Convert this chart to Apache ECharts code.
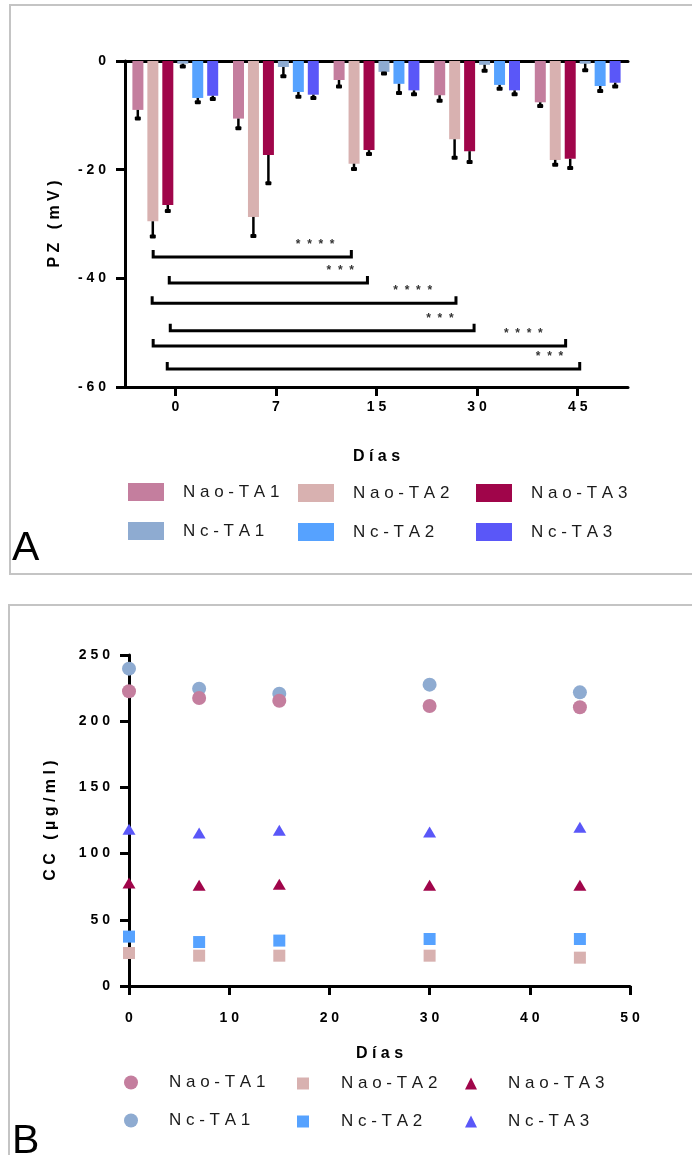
<!DOCTYPE html>
<html>
<head>
<meta charset="utf-8">
<script src="https://cdn.jsdelivr.net/npm/echarts@6/dist/echarts.min.js"></script>
<style>
html, body { margin: 0; padding: 0; background: #fff; }
#main { width: 692px; height: 1155px; }
</style>
</head>
<body>
<div id="main"></div>
<script>
// ---- panel A: PZ (mV) por día ----
var dias = ['0', '7', '15', '30', '45'];
var nombres = ['Nao-TA1', 'Nao-TA2', 'Nao-TA3', 'Nc-TA1', 'Nc-TA2', 'Nc-TA3'];
var colores = ['#c47e9e', '#d8b1b0', '#a0054a', '#8eabd1', '#56a2ff', '#5a57f8'];

var naoTA1_pz = [-9.0, -10.6, -3.5, -6.3, -7.6];
var naoTA2_pz = [-29.5, -28.7, -18.9, -14.4, -18.2];
var naoTA3_pz = [-26.5, -17.3, -16.4, -16.6, -18.0];
var ncTA1_pz = [-0.5, -1.1, -2.0, -0.7, -0.5];
var ncTA2_pz = [-6.8, -5.7, -4.2, -4.4, -4.6];
var ncTA3_pz = [-6.4, -6.2, -5.4, -5.4, -4.0];

var naoTA1_sd = [1.6, 1.8, 1.2, 1.0, 0.7];
var naoTA2_sd = [2.8, 3.5, 1.0, 3.4, 0.9];
var naoTA3_sd = [1.1, 5.2, 0.7, 2.0, 1.7];
var ncTA1_sd = [0.5, 1.7, 0.3, 1.1, 1.2];
var ncTA2_sd = [0.8, 0.9, 1.7, 0.7, 0.9];
var ncTA3_sd = [0.6, 0.6, 0.7, 0.7, 0.7];

// llaves de significancia (x en unidades de categoría)
var sigInicio = [-0.22, -0.06, -0.23, -0.05, -0.22, -0.08];
var sigFin = [1.75, 1.91, 2.79, 2.97, 3.88, 4.02];
var sigNivel = [-35.7, -40.5, -44.2, -49.3, -52.1, -56.3];
var sigEstrellaX = [1.39, 1.64, 2.36, 2.63, 3.46, 3.72];
var sigTexto = ['****', '***', '****', '***', '****', '***'];

// ---- panel B: CC (µg/ml) por día ----
var diasB = [0, 7, 15, 30, 45];
var naoTA1_cc = [222.6, 217.5, 215.5, 211.5, 210.5];
var naoTA2_cc = [24.9, 22.9, 22.9, 22.9, 21.4];
var naoTA3_cc = [77.8, 76.1, 76.8, 76.1, 76.1];
var ncTA1_cc = [239.7, 224.6, 220.8, 227.6, 221.8];
var ncTA2_cc = [37.3, 33.2, 34.3, 35.5, 35.5];
var ncTA3_cc = [118.3, 115.6, 117.6, 116.3, 119.9];

function esp(t) { return String(t).split('').join(' '); }

var fuente = '"Liberation Sans", Arial, sans-serif';
var pzSeries = [naoTA1_pz, naoTA2_pz, naoTA3_pz, ncTA1_pz, ncTA2_pz, ncTA3_pz];
var sdSeries = [naoTA1_sd, naoTA2_sd, naoTA3_sd, ncTA1_sd, ncTA2_sd, ncTA3_sd];
var ccSeries = [naoTA1_cc, naoTA2_cc, naoTA3_cc, ncTA1_cc, ncTA2_cc, ncTA3_cc];
var simbolos = ['circle', 'rect', 'triangle', 'circle', 'rect', 'triangle'];
var tamanos = [14, 12, [13, 11], 14, 12, [13, 11]];

function dibujaError(params, api) {
  var c = api.value(0), v = api.value(1), e = api.value(2), s = api.value(3);
  var p0 = api.coord([c, v]);
  var p1 = api.coord([c, v - e]);
  var x = p0[0] + (s - 2.5) * 15;
  return {
    type: 'group',
    children: [
      { type: 'line', shape: { x1: x, y1: p0[1], x2: x, y2: p1[1] }, style: { stroke: '#000', lineWidth: 2.5 } },
      { type: 'rect', shape: { x: x - 3, y: p1[1] - 2, width: 6, height: 4, r: 1 }, style: { fill: '#000' } }
    ]
  };
}

function dibujaLlave(params, api) {
  var a = api.coord([api.value(0), api.value(2)]);
  var b = api.coord([api.value(1), api.value(2)]);
  var t = api.coord([api.value(3), api.value(2)]);
  return {
    type: 'group',
    children: [
      { type: 'polyline', shape: { points: [[a[0], a[1] - 5], [a[0], a[1] + 2], [b[0], b[1] + 2], [b[0], b[1] - 5]] },
        style: { stroke: '#000', lineWidth: 3, fill: null } },
      { type: 'text', style: { text: sigTexto[params.dataIndex].split('').join('  '), x: t[0], y: t[1] - 4,
        align: 'center', verticalAlign: 'bottom', font: 'bold 12px ' + fuente, fill: '#333' } }
    ]
  };
}

var series = [];
for (var s = 0; s < nombres.length; s++) {
  series.push({
    name: nombres[s], type: 'bar', xAxisIndex: 0, yAxisIndex: 0,
    data: pzSeries[s], barWidth: 11, barGap: '36%',
    itemStyle: { color: colores[s] }
  });
}
var errData = [];
for (var s = 0; s < nombres.length; s++) {
  for (var c = 0; c < dias.length; c++) {
    errData.push([c, pzSeries[s][c], sdSeries[s][c], s]);
  }
}
series.push({ type: 'custom', xAxisIndex: 1, yAxisIndex: 0, data: errData, renderItem: dibujaError, z: 3 });
var llaves = [];
for (var i = 0; i < sigInicio.length; i++) {
  llaves.push([sigInicio[i], sigFin[i], sigNivel[i], sigEstrellaX[i]]);
}
series.push({ type: 'custom', xAxisIndex: 1, yAxisIndex: 0, data: llaves, renderItem: dibujaLlave, z: 3 });

// Nc primero para que Nao quede encima
var ordenB = [3, 4, 5, 0, 1, 2];
for (var k = 0; k < ordenB.length; k++) {
  var s = ordenB[k];
  var pts = [];
  for (var i = 0; i < diasB.length; i++) pts.push([diasB[i], ccSeries[s][i]]);
  series.push({
    name: nombres[s], type: 'scatter', xAxisIndex: 2, yAxisIndex: 1,
    symbol: simbolos[s], symbolSize: tamanos[s],
    itemStyle: { color: colores[s], opacity: 1 }, data: pts
  });
}

var ejeLinea = { show: true, onZero: false, lineStyle: { color: '#000', width: 3 } };
var ejeTick = { show: true, length: 9, lineStyle: { color: '#000', width: 3 } };
var ejeLabel = { formatter: esp, fontWeight: 'bold', fontSize: 14, color: '#000', fontFamily: fuente };
var ejeNombre = { fontWeight: 'bold', fontSize: 16, color: '#000', fontFamily: fuente };

function leyenda(items, left, top, w, h, gap, pad) {
  return {
    orient: 'vertical', left: left, top: top, padding: 0, itemWidth: w, itemHeight: h, itemGap: gap,
    selectedMode: false, data: items, formatter: esp,
    textStyle: { fontSize: 17, color: '#1a1a1a', fontFamily: fuente, padding: [0, 0, 0, pad] }
  };
}

var option = {
  animation: false,
  textStyle: { fontFamily: fuente },
  grid: [
    { left: 125, top: 61, width: 503, height: 326 },
    { left: 129, top: 655, width: 501, height: 331 }
  ],
  xAxis: [
    { gridIndex: 0, type: 'category', data: dias, position: 'bottom',
      axisLine: ejeLinea, axisTick: { show: true, alignWithLabel: true, length: 9, lineStyle: { color: '#000', width: 3 } },
      axisLabel: Object.assign({ margin: 13 }, ejeLabel),
      name: esp('Días'), nameLocation: 'middle', nameGap: 62, nameTextStyle: ejeNombre },
    { gridIndex: 0, type: 'value', min: -0.5, max: 4.5, position: 'top',
      axisLine: ejeLinea, axisTick: { show: false }, axisLabel: { show: false }, splitLine: { show: false } },
    { gridIndex: 1, type: 'value', min: 0, max: 50, interval: 10,
      axisLine: ejeLinea, axisTick: ejeTick, splitLine: { show: false },
      axisLabel: Object.assign({ margin: 25 }, ejeLabel),
      name: esp('Días'), nameLocation: 'middle', nameGap: 60, nameTextStyle: ejeNombre }
  ],
  yAxis: [
    { gridIndex: 0, type: 'value', min: -60, max: 0, interval: 20,
      axisLine: ejeLinea, axisTick: ejeTick, splitLine: { show: false },
      axisLabel: Object.assign({ margin: 19 }, ejeLabel),
      name: esp('PZ (mV)'), nameLocation: 'middle', nameGap: 62, nameTextStyle: ejeNombre },
    { gridIndex: 1, type: 'value', min: 0, max: 250, interval: 50,
      axisLine: ejeLinea, axisTick: ejeTick, splitLine: { show: false },
      axisLabel: Object.assign({ margin: 19 }, ejeLabel),
      name: esp('CC (µg/ml)'), nameLocation: 'middle', nameGap: 70, nameTextStyle: ejeNombre }
  ],
  legend: [
    leyenda([{ name: 'Nao-TA1', icon: 'rect' }, { name: 'Nc-TA1', icon: 'rect' }], 128, 483, 36, 18, 21, 14),
    leyenda([{ name: 'Nao-TA2', icon: 'rect' }, { name: 'Nc-TA2', icon: 'rect' }], 298, 484, 36, 18, 21, 14),
    leyenda([{ name: 'Nao-TA3', icon: 'rect' }, { name: 'Nc-TA3', icon: 'rect' }], 476, 484, 36, 18, 21, 14),
    leyenda([{ name: 'Nao-TA1', icon: 'circle' }, { name: 'Nc-TA1', icon: 'circle' }], 124, 1074, 14, 14, 21, 26),
    leyenda([{ name: 'Nao-TA2', icon: 'rect' }, { name: 'Nc-TA2', icon: 'rect' }], 297, 1075, 12, 12, 21, 27),
    leyenda([{ name: 'Nao-TA3', icon: 'triangle' }, { name: 'Nc-TA3', icon: 'triangle' }], 465, 1075, 12, 12, 21, 26)
  ],
  graphic: [
    { type: 'rect', shape: { x: 10, y: 5, width: 700, height: 569 }, style: { fill: null, stroke: '#c4c4c4', lineWidth: 2 } },
    { type: 'rect', shape: { x: 9, y: 605, width: 700, height: 600 }, style: { fill: null, stroke: '#c4c4c4', lineWidth: 2 } },
    { type: 'text', style: { text: 'A', x: 12, y: 528, font: '41px ' + fuente, fill: '#000', verticalAlign: 'top' } },
    { type: 'text', style: { text: 'B', x: 12, y: 1121, font: '41px ' + fuente, fill: '#000', verticalAlign: 'top' } }
  ],
  series: series
};

var chart = echarts.init(document.getElementById('main'));
chart.setOption(option);
</script>
</body>
</html>
